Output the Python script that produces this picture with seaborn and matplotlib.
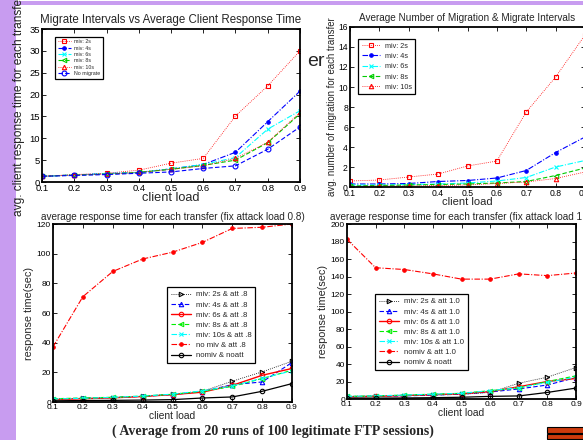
import matplotlib
matplotlib.use("Agg")
import matplotlib.pyplot as plt
from matplotlib.patches import Rectangle
import seaborn as sns

# ------------------------------
# DATA
# ------------------------------

client_load = [0.1, 0.2, 0.3, 0.4, 0.5, 0.6, 0.7, 0.8, 0.9]
xtick_labels = ["0.1", "0.2", "0.3", "0.4", "0.5", "0.6", "0.7", "0.8", "0.9"]

# top left: avg client response time per transfer
tl_miv2 = [1.3, 1.7, 2.0, 2.7, 4.3, 5.4, 15.1, 22.0, 30.0]
tl_miv4 = [1.3, 1.6, 1.9, 2.2, 3.0, 4.0, 6.8, 13.8, 20.8]
tl_miv6 = [1.3, 1.6, 1.9, 2.2, 3.0, 4.0, 5.6, 12.1, 16.3]
tl_miv8 = [1.3, 1.6, 1.8, 2.2, 2.9, 3.8, 5.0, 9.0, 15.6]
tl_miv10 = [1.3, 1.6, 1.8, 2.2, 2.9, 3.7, 5.4, 9.1, 15.9]
tl_nomig = [1.3, 1.5, 1.7, 2.0, 2.3, 3.1, 3.7, 7.5, 12.6]

# top right: avg number of migrations per transfer
tr_miv2 = [0.6, 0.7, 1.0, 1.3, 2.1, 2.6, 7.5, 11.0, 15.2]
tr_miv4 = [0.3, 0.3, 0.35, 0.55, 0.65, 0.9, 1.65, 3.45, 5.0]
tr_miv6 = [0.2, 0.2, 0.25, 0.3, 0.4, 0.6, 0.95, 2.0, 2.65]
tr_miv8 = [0.1, 0.15, 0.2, 0.25, 0.3, 0.4, 0.55, 1.15, 1.9]
tr_miv10 = [0.05, 0.1, 0.1, 0.15, 0.2, 0.35, 0.5, 0.85, 1.5]

# bottom left: response time, attack load 0.8
bl_miv2 = [2.0, 2.5, 3.0, 3.8, 5.2, 7.2, 14.0, 20.3, 27.5]
bl_miv4 = [2.0, 2.5, 3.0, 3.8, 5.0, 7.0, 11.7, 13.5, 26.6]
bl_miv6 = [1.6, 2.2, 2.8, 3.7, 5.0, 6.6, 11.2, 18.0, 22.6]
bl_miv8 = [2.2, 2.7, 3.2, 4.0, 5.2, 7.2, 10.5, 15.8, 21.4]
bl_miv10 = [2.0, 2.5, 3.1, 4.0, 5.3, 7.5, 10.8, 16.0, 21.0]
bl_nomiv_att = [37.2, 71.0, 88.0, 96.4, 101.0, 107.6, 117.0, 117.8, 120.0]
bl_nomiv_noatt = [0.8, 1.0, 1.1, 1.3, 1.6, 2.7, 3.4, 7.2, 12.4]

# bottom right: response time, attack load 1.0
br_miv2 = [3.0, 3.5, 4.0, 4.5, 5.5, 7.5, 18.0, 25.0, 36.0]
br_miv4 = [2.5, 3.0, 3.5, 4.5, 5.5, 8.0, 11.5, 16.0, 24.5]
br_miv6 = [2.5, 3.0, 4.0, 5.0, 6.0, 8.5, 14.0, 20.0, 23.5]
br_miv8 = [3.0, 3.5, 4.5, 5.5, 6.5, 9.5, 12.5, 20.0, 26.5]
br_miv10 = [3.0, 3.5, 4.5, 5.5, 6.5, 9.5, 13.0, 19.0, 25.0]
br_nomiv_att = [182.5, 150.0, 148.0, 143.0, 137.0, 137.0, 143.0, 141.0, 144.0]
br_nomiv_noatt = [1.0, 1.0, 1.2, 1.5, 2.0, 3.0, 3.5, 7.5, 12.5]

# ------------------------------
# STYLE
# ------------------------------

sns.set_style("ticks", {"xtick.direction": "in", "ytick.direction": "in"})
plt.rcParams["font.family"] = ["Liberation Sans", "DejaVu Sans"]

W, H = 583, 440
fig = plt.figure(figsize=(W / 100, H / 100), dpi=100)
fig.patch.set_facecolor("white")

PURPLE = "#c89cf0"
fig.add_artist(Rectangle((0, 0), 16 / W, 1, transform=fig.transFigure,
                         color=PURPLE, lw=0, zorder=0))
fig.add_artist(Rectangle((16 / W, 1 - 5 / H), 1, 3.5 / H, transform=fig.transFigure,
                         color=PURPLE, lw=0, zorder=0))


def px_axes(x0, y0, x1, y1):
    # axes rectangle given in picture pixels (top-left origin)
    return fig.add_axes([x0 / W, 1 - y1 / H, (x1 - x0) / W, (y1 - y0) / H])


def draw(ax, y, label, color, ls, marker, ms=3.2, lw=0.8, filled=False):
    sns.lineplot(x=client_load, y=y, ax=ax, label=label, color=color,
                 linestyle=ls, marker=marker, markersize=ms, linewidth=lw,
                 markeredgecolor=color, markeredgewidth=0.8,
                 markerfacecolor=color if filled else "none")


def finish(ax, ymax, ystep, tick_fs):
    ax.set_xlim(0.1, 0.9)
    ax.set_ylim(0, ymax)
    ax.set_xticks(client_load)
    ax.set_xticklabels(xtick_labels)
    ax.set_yticks(range(0, ymax + 1, ystep))
    ax.tick_params(top=True, right=True, length=3, width=0.6,
                   labelsize=tick_fs, pad=1.5, colors="black")
    for s in ax.spines.values():
        s.set_linewidth(1.3)
        s.set_color("black")


def legend(ax, anchor, fs, spacing):
    ax.legend(loc="upper left", bbox_to_anchor=anchor, borderaxespad=0,
              fontsize=fs, frameon=True, fancybox=False, framealpha=1,
              edgecolor="black", handlelength=2.6, handletextpad=0.6,
              labelspacing=spacing, borderpad=0.5).get_frame().set_linewidth(0.9)


DOT = (0, (1, 1.5))
DASHDOT = (0, (5, 1.5, 1, 1.5))
DASH = (0, (4, 2))

# ------------------------------
# TOP LEFT
# ------------------------------

ax1 = px_axes(42, 29, 300, 182)
draw(ax1, tl_miv2, "miv: 2s", "red", DOT, "s", lw=0.6)
draw(ax1, tl_miv4, "miv: 4s", "blue", DASHDOT, "o", ms=2.5, filled=True)
draw(ax1, tl_miv6, "miv: 6s", "cyan", DASHDOT, "x", ms=3)
draw(ax1, tl_miv8, "miv: 8s", "#00cc00", DASH, "<")
draw(ax1, tl_miv10, "miv: 10s", "red", DOT, "^", lw=0.6)
draw(ax1, tl_nomig, "No migrate", "blue", DASH, "o", ms=3.5)
finish(ax1, 35, 5, 6.8)
ax1.set_title("Migrate Intervals vs Average Client Response Time", fontsize=8.3, pad=4)
ax1.set_xlabel("client load", fontsize=9.2, labelpad=-1)
ax1.set_ylabel("avg. client response time for each transfer", fontsize=8.6, labelpad=3)
legend(ax1, (0.05, 0.95), 3.8, 0.25)

# ------------------------------
# TOP RIGHT
# ------------------------------

ax2 = px_axes(350, 27, 585, 187)
draw(ax2, tr_miv2, "miv: 2s", "red", DOT, "s", lw=0.6)
draw(ax2, tr_miv4, "miv: 4s", "blue", DASHDOT, "o", ms=2.5, filled=True)
draw(ax2, tr_miv6, "miv: 6s", "cyan", DASHDOT, "x", ms=3)
draw(ax2, tr_miv8, "miv: 8s", "#00cc00", DASH, "<")
draw(ax2, tr_miv10, "miv: 10s", "red", DOT, "^", lw=0.6)
finish(ax2, 16, 2, 6.2)
ax2.set_title("Average Number of Migration & Migrate Intervals", fontsize=7.2, pad=4)
ax2.set_xlabel("client load", fontsize=8, labelpad=-1)
ax2.set_ylabel("avg. number of migration for each transfer", fontsize=6.9, labelpad=1)
legend(ax2, (0.034, 0.925), 5.2, 0.45)

# ------------------------------
# BOTTOM LEFT
# ------------------------------

ax3 = px_axes(53, 224, 292, 402)
draw(ax3, bl_miv2, "miv: 2s & att .8", "black", DOT, ">", lw=0.6)
draw(ax3, bl_miv4, "miv: 4s & att .8", "blue", DASH, "^")
draw(ax3, bl_miv6, "miv: 6s & att .8", "red", "-", "o", lw=1.0)
draw(ax3, bl_miv8, "miv: 8s & att .8", "#00ee00", DASH, "<")
draw(ax3, bl_miv10, "miv: 10s & att .8", "cyan", DASHDOT, "x", ms=3)
draw(ax3, bl_nomiv_att, "no miv & att .8", "red", DASHDOT, "o", ms=2.5, filled=True)
draw(ax3, bl_nomiv_noatt, "nomiv & noatt", "black", "-", "o", lw=0.9)
finish(ax3, 120, 20, 6)
ax3.set_title("average response time for each transfer (fix attack load 0.8)",
              fontsize=7.2, pad=3)
ax3.set_xlabel("client load", fontsize=7.4, labelpad=0)
ax3.set_ylabel("response time(sec)", fontsize=7.8, labelpad=2)
legend(ax3, (0.477, 0.646), 5.6, 0.35)

# ------------------------------
# BOTTOM RIGHT
# ------------------------------

ax4 = px_axes(347, 224, 576, 399)
draw(ax4, br_miv2, "miv: 2s & att 1.0", "black", DOT, ">", lw=0.6)
draw(ax4, br_miv4, "miv: 4s & att 1.0", "blue", DASH, "^")
draw(ax4, br_miv6, "miv: 6s & att 1.0", "red", "-", "o", lw=1.0)
draw(ax4, br_miv8, "miv: 8s & att 1.0", "#00ee00", DASH, "<")
draw(ax4, br_miv10, "miv: 10s & att 1.0", "cyan", DASHDOT, "x", ms=3)
draw(ax4, br_nomiv_att, "nomiv & att 1.0", "red", DASHDOT, "o", ms=2.5, filled=True)
draw(ax4, br_nomiv_noatt, "nomiv & noatt", "black", "-", "o", lw=0.9)
finish(ax4, 200, 20, 6)
ax4.set_title("average response time for each transfer (fix attack load 1.0)",
              fontsize=7.2, pad=3)
ax4.set_xlabel("client load", fontsize=7.4, labelpad=0)
ax4.set_ylabel("response time(sec)", fontsize=7.8, labelpad=2)
legend(ax4, (0.122, 0.6), 5.6, 0.35)

# ------------------------------
# SLIDE DECORATIONS
# ------------------------------

fig.text(316 / W, 1 - 62 / H, "er", fontsize=14, ha="center", va="center")
fig.text(273 / W, 1 - 431 / H, "( Average from 20 runs of 100 legitimate FTP sessions)",
         fontsize=10, fontweight="bold", ha="center", va="center",
         family=["Liberation Serif", "DejaVu Serif"])
for top in (426.5, 433):
    fig.add_artist(Rectangle((547 / W, 1 - (top + 6) / H), 40 / W, 5.5 / H,
                             transform=fig.transFigure, facecolor="#cc3a0c",
                             edgecolor="black", lw=0.8))

fig.savefig("out.png", dpi=100)
